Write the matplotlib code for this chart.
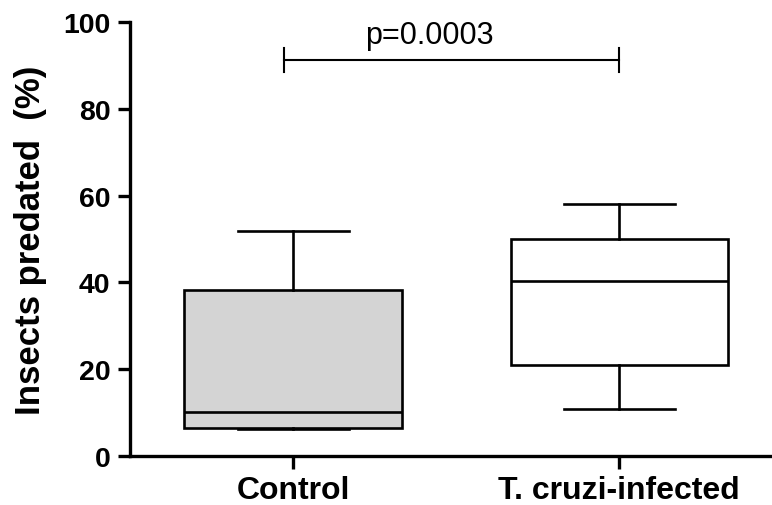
import matplotlib
matplotlib.use('Agg')
import matplotlib.pyplot as plt

# box statistics (% insects predated)
groups = ['Control', 'T. cruzi-infected']
whislo = [6.2, 10.8]
q1 = [6.5, 21.0]
med = [10.2, 40.3]
q3 = [38.3, 49.9]
whishi = [51.9, 58.0]
fills = ['#d4d4d4', '#ffffff']

p_text = 'p=0.0003'

plt.rcParams['font.family'] = 'Liberation Sans'

fig = plt.figure(figsize=(7.72, 5.06), dpi=100)
ax = fig.add_axes([0.1684, 0.0968, 0.8306, 0.8577])

stats = []
for i in range(len(groups)):
    stats.append({'label': groups[i], 'whislo': whislo[i], 'q1': q1[i], 'med': med[i],
                  'q3': q3[i], 'whishi': whishi[i], 'fliers': []})

pos = [1, 2]
bp = ax.bxp(stats, positions=pos, widths=0.666, capwidths=0.34, patch_artist=True,
            showfliers=False,
            boxprops=dict(linewidth=1.9, edgecolor='black'),
            medianprops=dict(color='black', linewidth=1.9),
            whiskerprops=dict(color='black', linewidth=1.9),
            capprops=dict(color='black', linewidth=1.9))
for patch, c in zip(bp['boxes'], fills):
    patch.set_facecolor(c)

# significance bar
ax.plot([0.971, 2.0], [91.3, 91.3], color='black', lw=1.5)
ax.plot([0.971, 0.971], [88.5, 93.9], color='black', lw=1.5)
ax.plot([2.0, 2.0], [88.5, 93.9], color='black', lw=1.5)
ax.text(1.417, 95.2, p_text, ha='center', va='baseline', fontsize=22)

ax.set_xlim(0.5, 2.466)
ax.set_ylim(0, 100)
ax.set_yticks([0, 20, 40, 60, 80, 100])
ax.set_xticks(pos)
ax.set_xticklabels(groups, fontsize=23, fontweight='bold')
for lab in ax.get_yticklabels():
    lab.set_fontsize(20.5)
    lab.set_fontweight('bold')

ax.spines['top'].set_visible(False)
ax.spines['right'].set_visible(False)
ax.spines['left'].set_linewidth(2.4)
ax.spines['bottom'].set_linewidth(2.4)
ax.tick_params(axis='both', width=2.4, length=9, pad=5)
ax.tick_params(axis='y', pad=5)

fig.text(0.039, 0.526, 'Insects predated  (%)', rotation=90, ha='center', va='center',
         fontsize=25, fontweight='bold')

fig.savefig('out.png', dpi=100)
